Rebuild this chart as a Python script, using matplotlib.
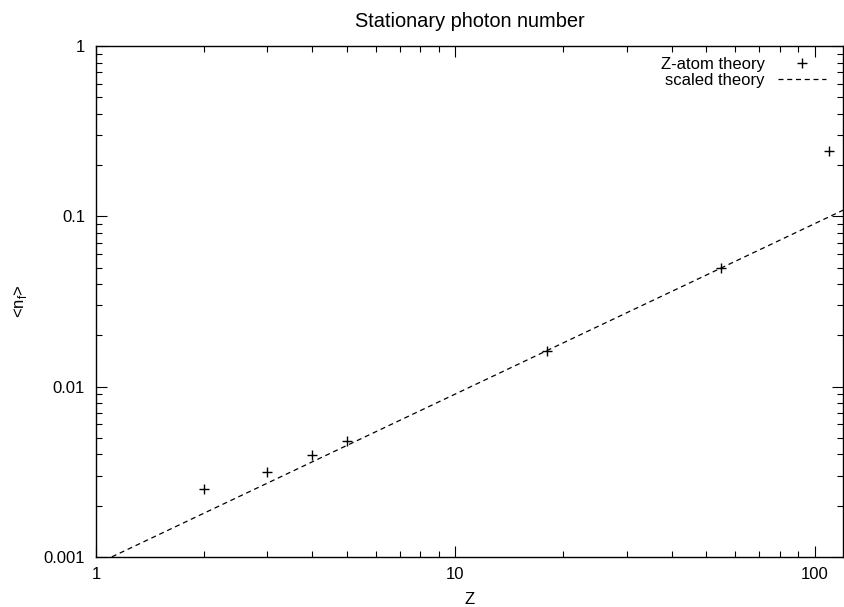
import matplotlib
matplotlib.use("Agg")
import matplotlib.pyplot as plt
from matplotlib.ticker import LogLocator, NullFormatter, FixedLocator, FixedFormatter

plt.rcParams['font.family'] = ['Liberation Sans', 'DejaVu Sans']
plt.rcParams['font.size'] = 12

# Z-atom theory points
z_atom = [2, 3, 4, 5, 18, 55, 110]
n_atom = [0.00251, 0.00314, 0.00397, 0.00478, 0.0162, 0.0498, 0.242]

# scaled theory (straight line in log-log, slope 1)
z_scaled = [1, 120]
n_scaled = [0.000905, 0.1086]

fig = plt.figure(figsize=(8.45, 6.07), dpi=100)
ax = fig.add_axes([96/845, 50/607, 747/845, 511/607])

ax.plot(z_atom, n_atom, linestyle='none', marker='+', color='black',
        markersize=7.5, markeredgewidth=1.0, label='Z-atom theory')
ax.plot(z_scaled, n_scaled, color='black', linewidth=0.9, dashes=(4, 3),
        label='scaled theory')

ax.set_xscale('log')
ax.set_yscale('log')
ax.set_xlim(1, 120)
ax.set_ylim(0.001, 1)

ax.xaxis.set_major_locator(FixedLocator([1, 10, 100]))
ax.xaxis.set_major_formatter(FixedFormatter(['1', '10', '100']))
ax.xaxis.set_minor_locator(LogLocator(base=10, subs=range(2, 10), numticks=20))
ax.xaxis.set_minor_formatter(NullFormatter())
ax.yaxis.set_major_locator(FixedLocator([0.001, 0.01, 0.1, 1]))
ax.yaxis.set_major_formatter(FixedFormatter(['0.001', '0.01', '0.1', '1']))
ax.yaxis.set_minor_locator(LogLocator(base=10, subs=range(2, 10), numticks=20))
ax.yaxis.set_minor_formatter(NullFormatter())

ax.tick_params(which='both', direction='in', top=True, right=True, width=0.8)
ax.tick_params(axis='x', which='major', length=8, pad=7)
ax.tick_params(axis='y', which='major', length=8, pad=8)
ax.tick_params(which='minor', length=4)
for s in ax.spines.values():
    s.set_linewidth(1.0)

ax.set_title('Stationary photon number', pad=14)
ax.set_xlabel('Z', labelpad=7.5)
ax.set_ylabel(r'<n$_\mathregular{f}$>', labelpad=10)

# legend sits a few pixels higher than the default anchor
ax.legend(loc='upper right', bbox_to_anchor=(1, 1 + 6/511), frameon=False,
          markerfirst=False, handlelength=2.9, handletextpad=0.78,
          labelspacing=0.05, borderaxespad=0.6)

fig.savefig('out.png', dpi=100)
